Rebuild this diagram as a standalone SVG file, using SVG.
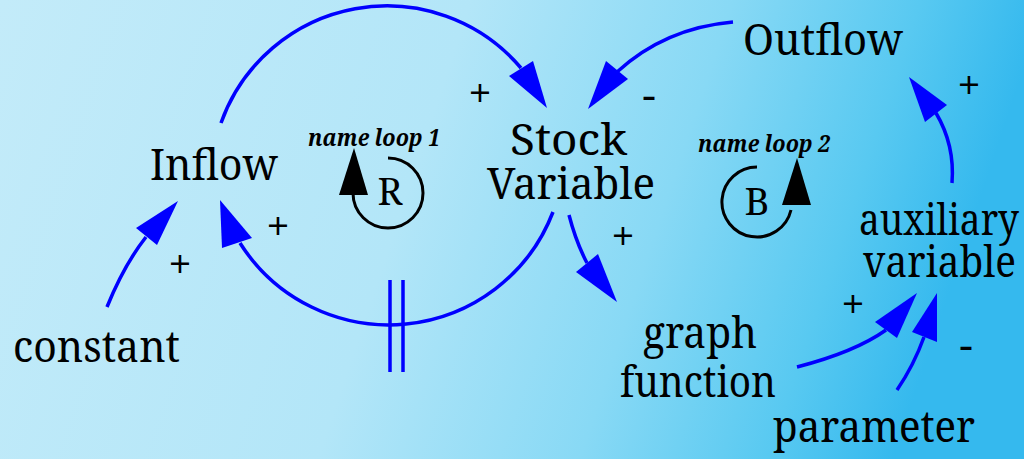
<svg xmlns="http://www.w3.org/2000/svg" width="1024" height="459" viewBox="0 0 1024 459">
<defs>
<linearGradient id="bg" x1="0" y1="0" x2="1" y2="0.15">
<stop offset="0" stop-color="#c3ebf9"/>
<stop offset="0.45" stop-color="#b3e6f8"/>
<stop offset="0.7" stop-color="#88d9f5"/>
<stop offset="0.88" stop-color="#58c9f1"/>
<stop offset="1" stop-color="#35b9ee"/>
</linearGradient>
<style>
text{font-family:'Noto Serif','DejaVu Serif',serif;fill:#000}
.lbl{font-size:43px}
.sign{font-size:42px;text-anchor:middle}
.loopname{font-size:23px;font-weight:bold;font-style:italic}
.looplet{font-size:38px;text-anchor:middle}
.link{fill:none;stroke:#0000ff;stroke-width:3.5}
.head{fill:#0000ff;stroke:none}
.loop{fill:none;stroke:#000;stroke-width:3}
</style>
</defs>
<rect width="1024" height="459" fill="url(#bg)"/>

<g id="connectors">
<path class="link" d="M221,123 A176,176 0 0 1 521,68"/>
<polygon class="head" points="547,108 509,76 533,61"/>
<path class="link" d="M733,22 Q665,28 617,72"/>
<polygon class="head" points="588,109 606,61 628,79"/>
<path class="link" d="M553,212 A176,176 0 0 1 240,243"/>
<polygon class="head" points="220,200 222,248 252,238"/>
<line class="link" x1="390" y1="280" x2="390" y2="372"/>
<line class="link" x1="403" y1="280" x2="403" y2="372"/>
<path class="link" d="M107,307 Q124,265 146,237"/>
<polygon class="head" points="178,201 136,228 157,245"/>
<path class="link" d="M569,215 Q576,242 587,263"/>
<polygon class="head" points="617,302 576,272 598,254"/>
<path class="link" d="M952,183 Q955,145 936,113"/>
<polygon class="head" points="909,77 925,122 947,105"/>
<path class="link" d="M797,367 Q855,352 886,330"/>
<polygon class="head" points="917,293 875,322 897,338"/>
<path class="link" d="M897,390 Q914,365 924,337"/>
<polygon class="head" points="937,293 912,332 937,342"/>
</g>

<g id="signs">
<text class="sign" x="480" y="108">+</text>
<text class="sign" x="649" y="110">-</text>
<text class="sign" x="278" y="241">+</text>
<text class="sign" x="180" y="279">+</text>
<text class="sign" x="623" y="251">+</text>
<text class="sign" x="969" y="100">+</text>
<text class="sign" x="853" y="319">+</text>
<text class="sign" x="966" y="360">-</text>
</g>

<g id="node-inflow"><text class="lbl" x="150" y="180" textLength="128" lengthAdjust="spacingAndGlyphs">Inflow</text></g>
<g id="node-stock"><text class="lbl" x="510" y="155" textLength="117" lengthAdjust="spacingAndGlyphs">Stock</text><text class="lbl" x="487" y="199" textLength="168" lengthAdjust="spacingAndGlyphs">Variable</text></g>
<g id="node-outflow"><text class="lbl" x="743" y="55" textLength="160" lengthAdjust="spacingAndGlyphs">Outflow</text></g>
<g id="node-auxiliary"><text class="lbl" x="859" y="235" textLength="160" lengthAdjust="spacingAndGlyphs">auxiliary</text><text class="lbl" x="863" y="277" textLength="153" lengthAdjust="spacingAndGlyphs">variable</text></g>
<g id="node-graph"><text class="lbl" x="643" y="348" textLength="114" lengthAdjust="spacingAndGlyphs">graph</text><text class="lbl" x="620" y="397" textLength="156" lengthAdjust="spacingAndGlyphs">function</text></g>
<g id="node-parameter"><text class="lbl" x="773" y="442" textLength="202" lengthAdjust="spacingAndGlyphs">parameter</text></g>
<g id="node-constant"><text class="lbl" x="13" y="362" textLength="167" lengthAdjust="spacingAndGlyphs">constant</text></g>

<g id="loop-R">
<text class="loopname" x="308" y="146" textLength="132" lengthAdjust="spacingAndGlyphs">name loop 1</text>
<path class="loop" d="M388,158 A35,35 0 1 1 353,193"/>
<polygon points="354,148 339,195 368,195" fill="#000"/>
<text class="looplet" x="390" y="205">R</text>
</g>
<g id="loop-B">
<text class="loopname" x="698" y="152" textLength="132" lengthAdjust="spacingAndGlyphs">name loop 2</text>
<path class="loop" d="M757,167 A35,35 0 1 0 791,210"/>
<polygon points="797,158 782,205 811,205" fill="#000"/>
<text class="looplet" x="757" y="215">B</text>
</g>
</svg>
